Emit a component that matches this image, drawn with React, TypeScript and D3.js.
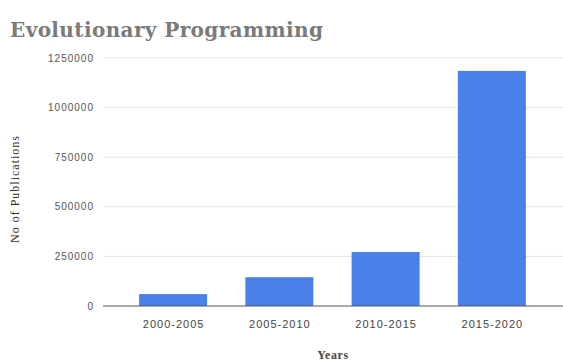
import React from "react";
import * as d3 from "d3";

const categories = ["2000-2005", "2005-2010", "2010-2015", "2015-2020"];
const publications = [60000, 145000, 272000, 1185000];
const yTicks = [0, 250000, 500000, 750000, 1000000, 1250000];

const W = 563;
const H = 363;

export default function App() {
  const x = d3.scaleBand<string>().domain(categories).range([120, 545]).paddingInner(0.36).paddingOuter(0.18);
  const y = d3.scaleLinear().domain([0, 1250000]).range([306, 58]);
  return (
    <svg width={W} height={H} style={{ position: "absolute", left: 0, top: 0 }}>
      <rect width={W} height={H} fill="#fff" />
      <text x={10} y={37} fontFamily="'DejaVu Serif', serif" fontWeight="bold" fontSize={20} fill="#7a7a7a" textLength={313}>
        Evolutionary Programming
      </text>
      {yTicks.map((t) => (
        <g key={t}>
          {t !== 0 && <line x1={103} x2={563} y1={y(t)} y2={y(t)} stroke="#e3e3e3" />}
          <text x={94} y={y(t)} dy="0.35em" textAnchor="end" fontFamily="Arial, 'Liberation Sans', sans-serif" fontSize={10} letterSpacing={1} fill="#555">
            {t}
          </text>
        </g>
      ))}
      {categories.map((c, i) => (
        <rect key={c} x={x(c)} y={y(publications[i])} width={x.bandwidth()} height={y(0) - y(publications[i])} fill="#4a80ea" />
      ))}
      <line x1={103} x2={563} y1={y(0)} y2={y(0)} stroke="#555" />
      {categories.map((c) => (
        <text key={c} x={(x(c) as number) + x.bandwidth() / 2 + 0.5} y={328} textAnchor="middle" fontFamily="Arial, 'Liberation Sans', sans-serif" fontSize={11} letterSpacing={1} fill="#444">
          {c}
        </text>
      ))}
      <text x={333} y={359} textAnchor="middle" fontFamily="'Liberation Serif', serif" fontSize={12} letterSpacing={0.6} fontWeight="bold" fill="#444">
        Years
      </text>
      <text transform={`translate(19,189) rotate(-90)`} textAnchor="middle" fontFamily="'Liberation Serif', serif" fontSize={12} letterSpacing={1} fill="#333">
        No of  Publications
      </text>
    </svg>
  );
}
